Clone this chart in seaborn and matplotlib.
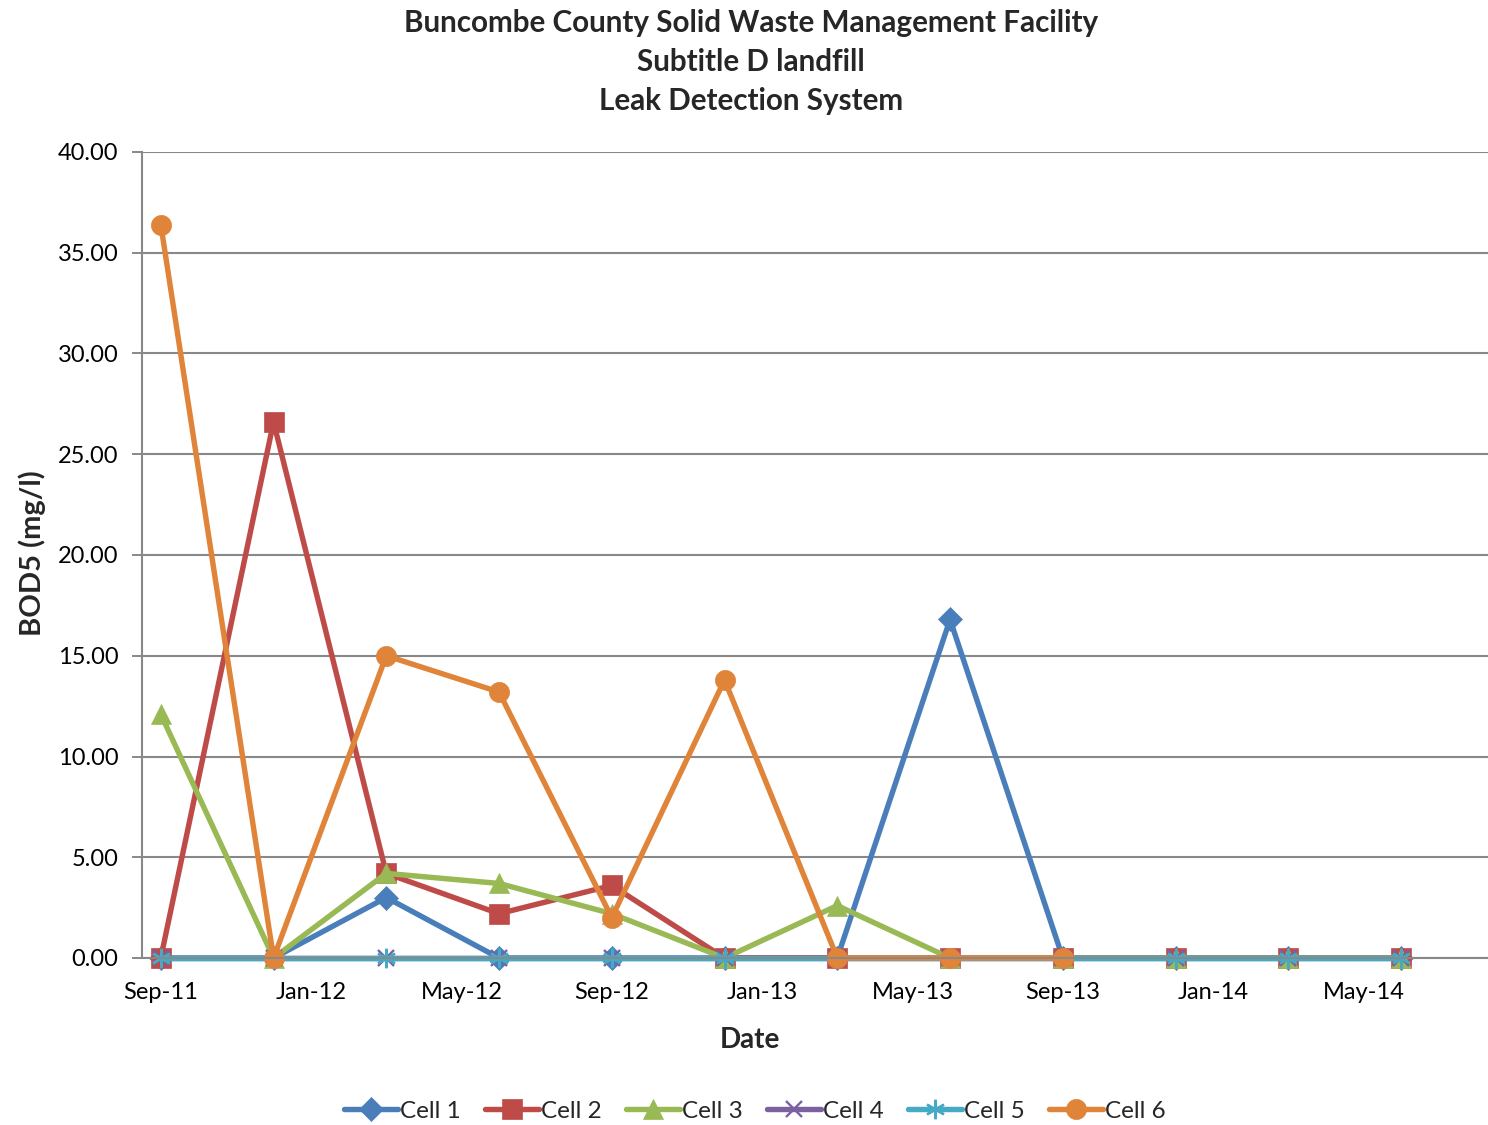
import matplotlib
matplotlib.use("Agg")
import matplotlib.pyplot as plt
import seaborn as sns
import pandas as pd

# ---- data ----
dates = ["2011-09", "2011-12", "2012-03", "2012-06", "2012-09", "2012-12",
         "2013-03", "2013-06", "2013-09", "2013-12", "2014-03", "2014-06"]
cell1 = [0.0, 0.0, 3.0, 0.0, 0.0, 0.0, 0.0, 16.8, 0.0, 0.0, 0.0, 0.0]
cell2 = [0.0, 26.6, 4.2, 2.2, 3.6, 0.0, 0.0, 0.0, 0.0, 0.0, 0.0, 0.0]
cell3 = [12.1, 0.0, 4.2, 3.7, 2.2, 0.0, 2.6, 0.0, 0.0, 0.0, 0.0, 0.0]
cell4 = [0.0, 0.0, 0.0, 0.0, 0.0, 0.0, 0.0, 0.0, 0.0, 0.0, 0.0, 0.0]
cell5 = [0.0, 0.0, 0.0, 0.0, 0.0, 0.0, 0.0, 0.0, 0.0, 0.0, 0.0, 0.0]
cell6 = [36.4, 0.0, 15.0, 13.2, 2.0, 13.8, 0.0, 0.0, 0.0, None, None, None]
series_names = ["Cell 1", "Cell 2", "Cell 3", "Cell 4", "Cell 5", "Cell 6"]
tick_labels = ["Sep-11", "Jan-12", "May-12", "Sep-12", "Jan-13",
               "May-13", "Sep-13", "Jan-14", "May-14"]
title_lines = ["Buncombe County Solid Waste Management Facility",
               "Subtitle D landfill", "Leak Detection System"]

# ---- styling ----
sns.set_style("white")
plt.rcParams["font.family"] = ["Lato", "DejaVu Sans"]

colors = ["#4A7EBB", "#BE4B48", "#98B954", "#7D60A0", "#46AAC5", "#E0843A"]
markers = ["D", "s", "^", "x", (6, 2, 0), "o"]
msizes = [12, 14, 14, 12, 14, 14.5]
grid_c = "#888888"

# month offsets from first date (monthly slots, as in the original date axis)
start = pd.Period(dates[0], freq="M")
months = [(pd.Period(d, freq="M") - start).n for d in dates]

values = [cell1, cell2, cell3, cell4, cell5, cell6]
frames = []
for name, vals in zip(series_names, values):
    frames.append(pd.DataFrame({"month": months, "value": vals, "series": name}))
df = pd.concat(frames, ignore_index=True).dropna()

fig = plt.figure(figsize=(14.88, 11.25), dpi=100)
W, H = 1488, 1125
left_px, right_px = 142, 1495
ax = fig.add_axes([left_px / W, 1 - 958 / H, (right_px - left_px) / W, (958 - 152) / H])

for name, c, m, ms in zip(series_names, colors, markers, msizes):
    sub = df[df["series"] == name]
    line_marker = m in ("x",) or isinstance(m, tuple)
    sns.lineplot(data=sub, x="month", y="value", ax=ax, color=c, linewidth=3.9,
                 marker=m, markersize=ms, markerfacecolor=c,
                 markeredgecolor=c, markeredgewidth=1.7 if line_marker else 0.5,
                 label=name, clip_on=False, estimator=None, sort=False)

ax.set_ylim(0, 40)
ax.set_xlim(-0.5, 35.5)
ax.set_yticks([0, 5, 10, 15, 20, 25, 30, 35, 40])
ax.set_yticklabels([f"{v:.2f}" for v in ax.get_yticks()])
ax.set_xticks(list(range(0, 36, 4)))
ax.set_xticklabels(tick_labels)
ax.set_xticks([i + 0.5 for i in range(-1, 36, 4)], minor=True)
ax.tick_params(axis="x", which="major", length=0, pad=17, labelsize=17, colors="black")
ax.tick_params(axis="x", which="minor", length=6, width=1.4, color=grid_c, direction="out")
ax.tick_params(axis="y", which="major", length=7, width=1.4, color=grid_c, pad=10,
               labelsize=17, direction="out", left=True)
for lab in ax.get_xticklabels() + ax.get_yticklabels():
    lab.set_color("black")

ax.grid(axis="y", color=grid_c, linewidth=1.5)
ax.grid(axis="x", visible=False)
ax.set_axisbelow(True)
for s in ["top", "right"]:
    ax.spines[s].set_visible(False)
for s in ["left", "bottom"]:
    ax.spines[s].set_color(grid_c)
    ax.spines[s].set_linewidth(1.5)
ax.set_xlabel("")
ax.set_ylabel("")

handles, labels = ax.get_legend_handles_labels()
ax.legend_.remove()
fig.legend(handles, labels, loc="center", bbox_to_anchor=(755 / W, 1 - 1111 / H),
           ncol=6, frameon=False, fontsize=17.5, handlelength=2.2, handletextpad=0.1,
           columnspacing=1.0)

for i, t in enumerate(title_lines):
    fig.text(751 / W, 1 - (23 + 39 * i) / H, t, ha="center", va="center",
             fontsize=21.3, fontweight="bold")
fig.text(750 / W, 1 - 1040 / H, "Date", ha="center", va="center",
         fontsize=20, fontweight="bold")
fig.text(32 / W, 1 - 553 / H, "BOD5 (mg/l)", ha="center", va="center",
         rotation=90, fontsize=21, fontweight="bold")

fig.savefig("out.png", dpi=100)
